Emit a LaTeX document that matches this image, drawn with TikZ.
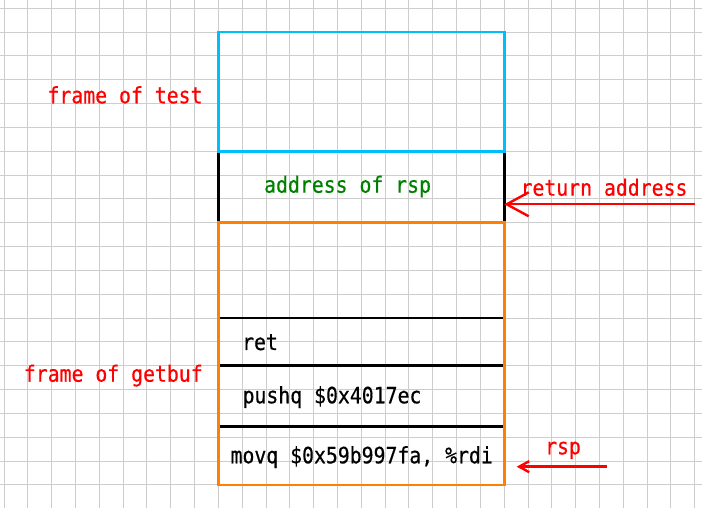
\documentclass[tikz,border=0pt]{standalone}
\usepackage{fontspec}
\newfontfamily\codefont{DejaVu Sans Mono}[FakeStretch=0.88, FakeBold=0.5]
\usepackage{tikz}
\usetikzlibrary{positioning, arrows.meta, calc}

\definecolor{gridgray}{RGB}{205,205,205}
\definecolor{framecyan}{RGB}{0,190,250}
\definecolor{frameorange}{RGB}{255,128,0}
\definecolor{labelgreen}{RGB}{0,128,0}

\begin{document}
\begin{tikzpicture}[x=1pt, y=1pt,
    gridline/.style={gridgray, line width=1pt},
    cellline/.style={line width=2.6pt},
    txt/.style={font=\codefont\fontsize{22.5}{26}\selectfont, inner sep=0pt, anchor=base},
    redlabel/.style={txt, text=red},
    pointer/.style={red, line width=2.4pt}]
  \useasboundingbox (0,0) rectangle (702,508);
  % background grid
  \foreach \i in {0,...,29} \draw[gridline] (4+\i*23.82,0) -- (4+\i*23.82,508);
  \foreach \k in {0,...,20} \draw[gridline] (0,499.7-\k*23.83) -- (702,499.7-\k*23.83);

  % corners of the stack
  \coordinate (tl) at (218.3,475.9);
  \coordinate (tr) at (504.2,475.9);
  \coordinate (ml) at (218.3,356.5);
  \coordinate (mr) at (504.2,356.5);
  \coordinate (gl) at (218.3,285.2);
  \coordinate (gr) at (504.2,285.2);
  \coordinate (bl) at (218.3,23.1);
  \coordinate (br) at (504.2,23.1);

  % address slot
  \draw[cellline] (ml) -- (gl);
  \draw[cellline] (mr) -- (gr);
  % frame of test
  \draw[cellline, framecyan] (tl) rectangle (mr);
  % slots of getbuf
  \draw[cellline] (218.3,190) -- (504.2,190);
  \draw[cellline] (218.3,142.2) -- (504.2,142.2);
  \draw[cellline] (218.3,81.3) -- (504.2,81.3);
  \draw[cellline, frameorange] (gl) rectangle (br);

  % labels
  \node[redlabel] (test) at (125,404.7) {frame of test};
  \node[txt, text=labelgreen] (addr) at (347.6,315.3) {address of rsp};
  \node[redlabel] (retaddr) at (604,312.3) {return address};
  \node[redlabel] (getbuf) at (113.3,126.3) {frame of getbuf};
  \node[txt] (ret) at (260,158) {ret};
  \node[txt] (push) at (332,104.7) {pushq \$0x4017ec};
  \node[txt] (mov) at (361.7,44.7) {movq \$0x59b997fa, \%rdi};
  \node[redlabel] (rsp) at (563,53.7) {rsp};

  % pointers
  \coordinate (retfrom) at (694.7,303.7);
  \coordinate (retto) at (504.2,303.7);
  \coordinate (rspfrom) at (606.7,41.3);
  \coordinate (rspto) at (516.7,41.3);
  \draw[pointer, -{Straight Barb[length=22pt, width=24pt]}] (retfrom) -- (retto);
  \draw[pointer, -{Straight Barb[length=10pt, width=11pt]}] (rspfrom) -- (rspto);
\end{tikzpicture}
\end{document}
